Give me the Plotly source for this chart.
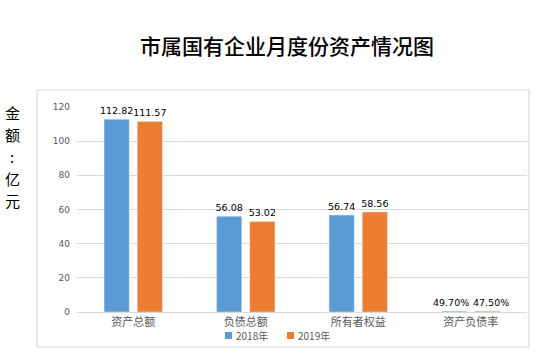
import plotly.graph_objects as go

categories = ["资产总额", "负债总额", "所有者权益", "资产负债率"]
series_names = ["2018年", "2019年"]
values_2018 = [112.82, 56.08, 56.74, 0.497]
values_2019 = [111.57, 53.02, 58.56, 0.475]
labels_2018 = ["112.82", "56.08", "56.74", "49.70%"]
labels_2019 = ["111.57", "53.02", "58.56", "47.50%"]
y_ticks = [0, 20, 40, 60, 80, 100, 120]
y_title_chars = ["金", "额", ":", "亿", "元"]

BLUE = "#5b9bd5"
ORANGE = "#ed7d31"
GREY = "#595959"
GRID = "#d9d9d9"

L, R, T, B = 77, 21, 107, 52
W, H = 548, 364
pw, ph = W - L - R, H - T - B

def px_x(x):
    return (x - L) / pw

def px_y(y):
    return (H - B - y) / ph

label_font = dict(family="DejaVu Sans", size=9.5, color="#000000")

fig = go.Figure()
for name, vals, labs, col in [(series_names[0], values_2018, labels_2018, BLUE),
                              (series_names[1], values_2019, labels_2019, ORANGE)]:
    # the last category's labels collide, so they are drawn as annotations below
    fig.add_trace(go.Bar(
        name=name, x=categories, y=vals, marker_color=col,
        text=labs[:-1] + [""], textposition="outside", constraintext="none", cliponaxis=False,
        textfont=label_font,
    ))

annotations = [
    dict(text="市属国有企业月度份资产情况图", xref="paper", yref="paper",
         x=px_x(287), y=px_y(45), xanchor="center", yanchor="middle", showarrow=False,
         font=dict(family="Noto Sans CJK SC", size=21, color="#000000", weight=500)),
]
for i, ch in enumerate(y_title_chars):
    annotations.append(dict(text=ch, xref="paper", yref="paper",
                            x=px_x(12), y=px_y(112 + 22 * i), xanchor="center", yanchor="middle",
                            showarrow=False,
                            font=dict(family="Noto Sans CJK SC", size=15, color="#000000")))

# last category labels, pushed apart like the reference
for vals, labs, anchor in [(values_2018, labels_2018, "right"),
                           (values_2019, labels_2019, "left")]:
    annotations.append(dict(
        text=labs[-1], x=categories[-1], y=vals[-1], xref="x", yref="y",
        xanchor=anchor, yanchor="bottom", yshift=1, showarrow=False, font=label_font))

# manual legend
legend_items = [(series_names[0], BLUE, 225), (series_names[1], ORANGE, 287)]
shapes = [dict(type="rect", xref="paper", yref="paper",
               x0=px_x(37), x1=px_x(529), y0=px_y(347), y1=px_y(90),
               line=dict(color=GRID, width=1.2), layer="below")]
for name, col, xpx in legend_items:
    shapes.append(dict(type="rect", xref="paper", yref="paper",
                       x0=px_x(xpx), x1=px_x(xpx + 7), y0=px_y(339), y1=px_y(332),
                       fillcolor=col, line=dict(width=0)))
    annotations.append(dict(text=name, xref="paper", yref="paper",
                            x=px_x(xpx + 9), y=px_y(335.5), xanchor="left", yanchor="middle",
                            showarrow=False,
                            font=dict(family="Noto Sans CJK SC", size=10, color=GREY)))

fig.update_layout(
    width=W, height=H,
    margin=dict(l=L, r=R, t=T, b=B),
    paper_bgcolor="white", plot_bgcolor="white",
    barmode="group", bargap=0.41, bargroupgap=0.24,
    font=dict(family="Noto Sans CJK SC", color=GREY),
    showlegend=False,
    xaxis=dict(showgrid=False, showline=True, linecolor=GRID, linewidth=1, ticks="",
               tickfont=dict(family="Noto Sans CJK SC", size=11, color=GREY)),
    yaxis=dict(range=[0, 120], tickvals=y_ticks, showgrid=True, gridcolor=GRID, gridwidth=1,
               zeroline=False, showline=False, ticks="", ticklabelstandoff=6,
               tickfont=dict(family="DejaVu Sans", size=9, color=GREY)),
    annotations=annotations,
    shapes=shapes,
)

fig.write_html("out.html", config={"displayModeBar": False},
               post_script="document.body.style.margin='0';")
